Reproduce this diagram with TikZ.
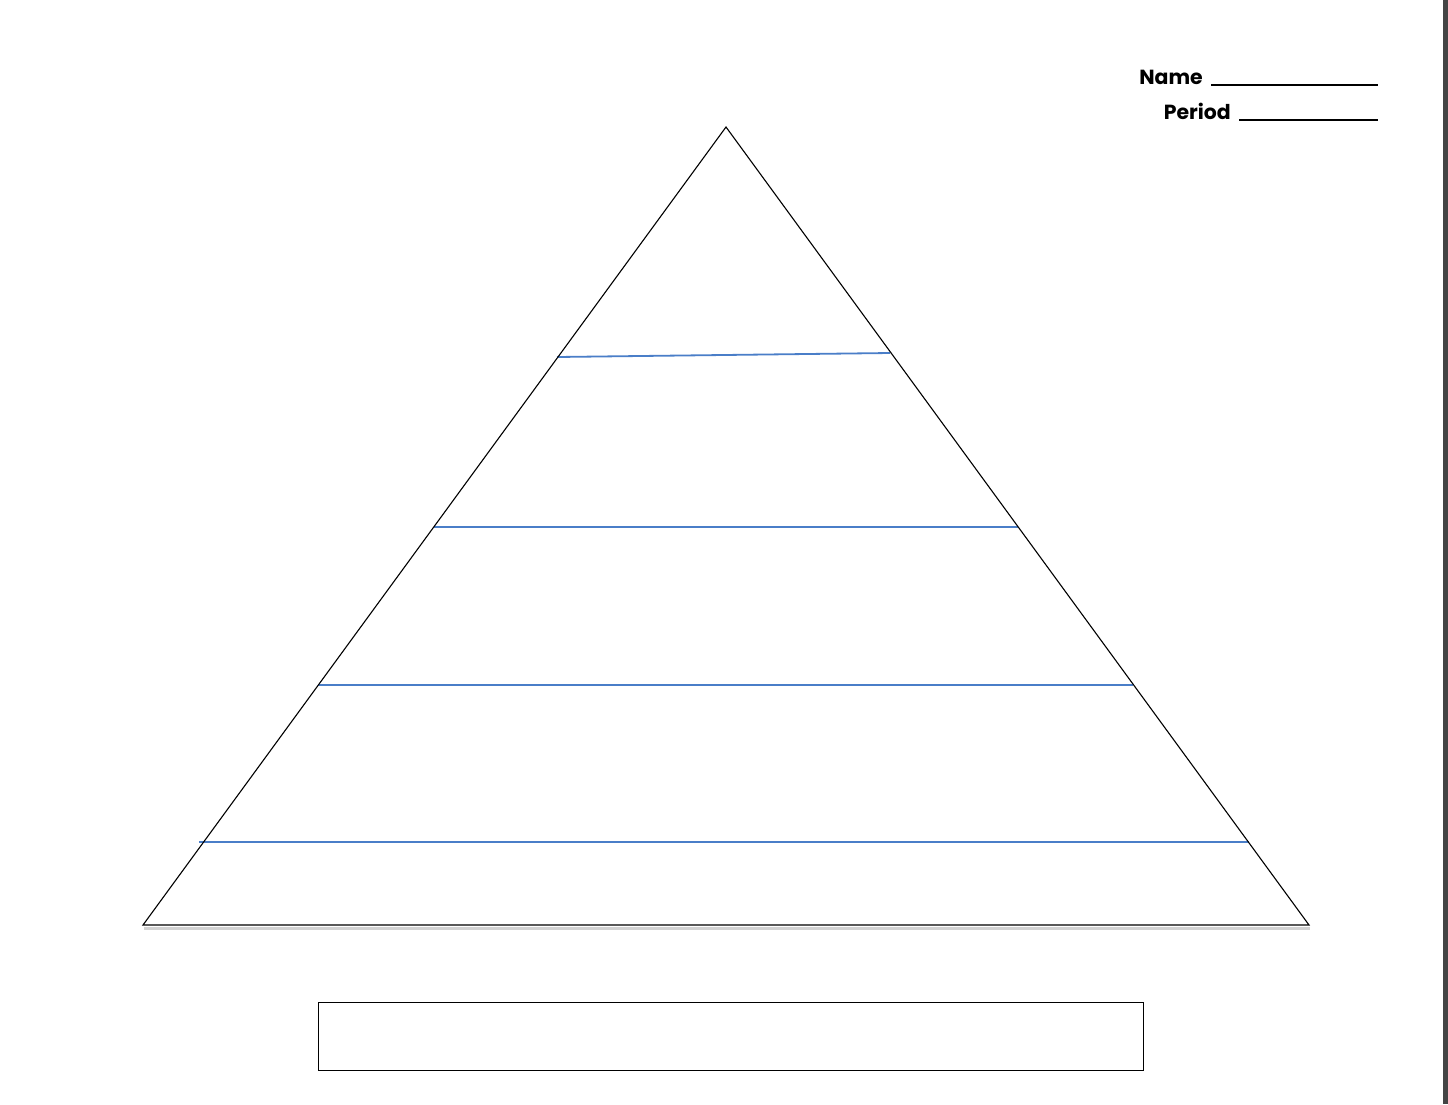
\documentclass[tikz,border=0pt]{standalone}
\usepackage{fontspec}
\setmainfont{Poppins}
\begin{document}
\begin{tikzpicture}[x=1bp,y=-1bp,
  edge/.style={black, line width=1.1bp, line join=miter},
  band/.style={color={rgb,255:red,74;green,126;blue,200}, line width=1.8bp},
  lbl/.style={font=\bfseries\fontsize{20.5}{24}\selectfont, inner sep=0pt, anchor=base east}]
\useasboundingbox (0,0) rectangle (1448,1104);
\fill[white] (0,0) rectangle (1448,1104);
\fill[color={rgb,255:red,68;green,68;blue,68}] (1443,0) rectangle (1448,1104);
% triangle
\coordinate (A) at (726,127);
\coordinate (L) at (143,925);
\coordinate (R) at (1309,925);
\draw[color={rgb,255:red,210;green,210;blue,210}, line width=2.5bp] (144,928.5) -- (1310,928.5);
% bands
\coordinate (b1l) at (557,357); \coordinate (b1r) at (890,353);
\coordinate (b2l) at (434,527); \coordinate (b2r) at (1018,527);
\coordinate (b3l) at (318,685); \coordinate (b3r) at (1133,685);
\coordinate (b4l) at (199,842); \coordinate (b4r) at (1249,842);
\draw[band] (b1l) -- (b1r);
\draw[band] (b2l) -- (b2r);
\draw[band] (b3l) -- (b3r);
\draw[band] (b4l) -- (b4r);
\draw[edge] (A) -- (L) -- (R) -- cycle;
% box
\node[draw, line width=1.2bp, minimum width=825bp, minimum height=68bp, inner sep=0pt, anchor=north west] (box) at (318,1002) {};
% name / period
\coordinate (nameul) at (1211,85);
\coordinate (perul) at (1239,120);
\node[lbl] (name) at (1203,84) {Name};
\node[lbl] (period) at (1231,119) {Period};
\draw[line width=1.6bp] (nameul) -- (1378,85);
\draw[line width=1.6bp] (perul) -- (1378,120);
\end{tikzpicture}
\end{document}
